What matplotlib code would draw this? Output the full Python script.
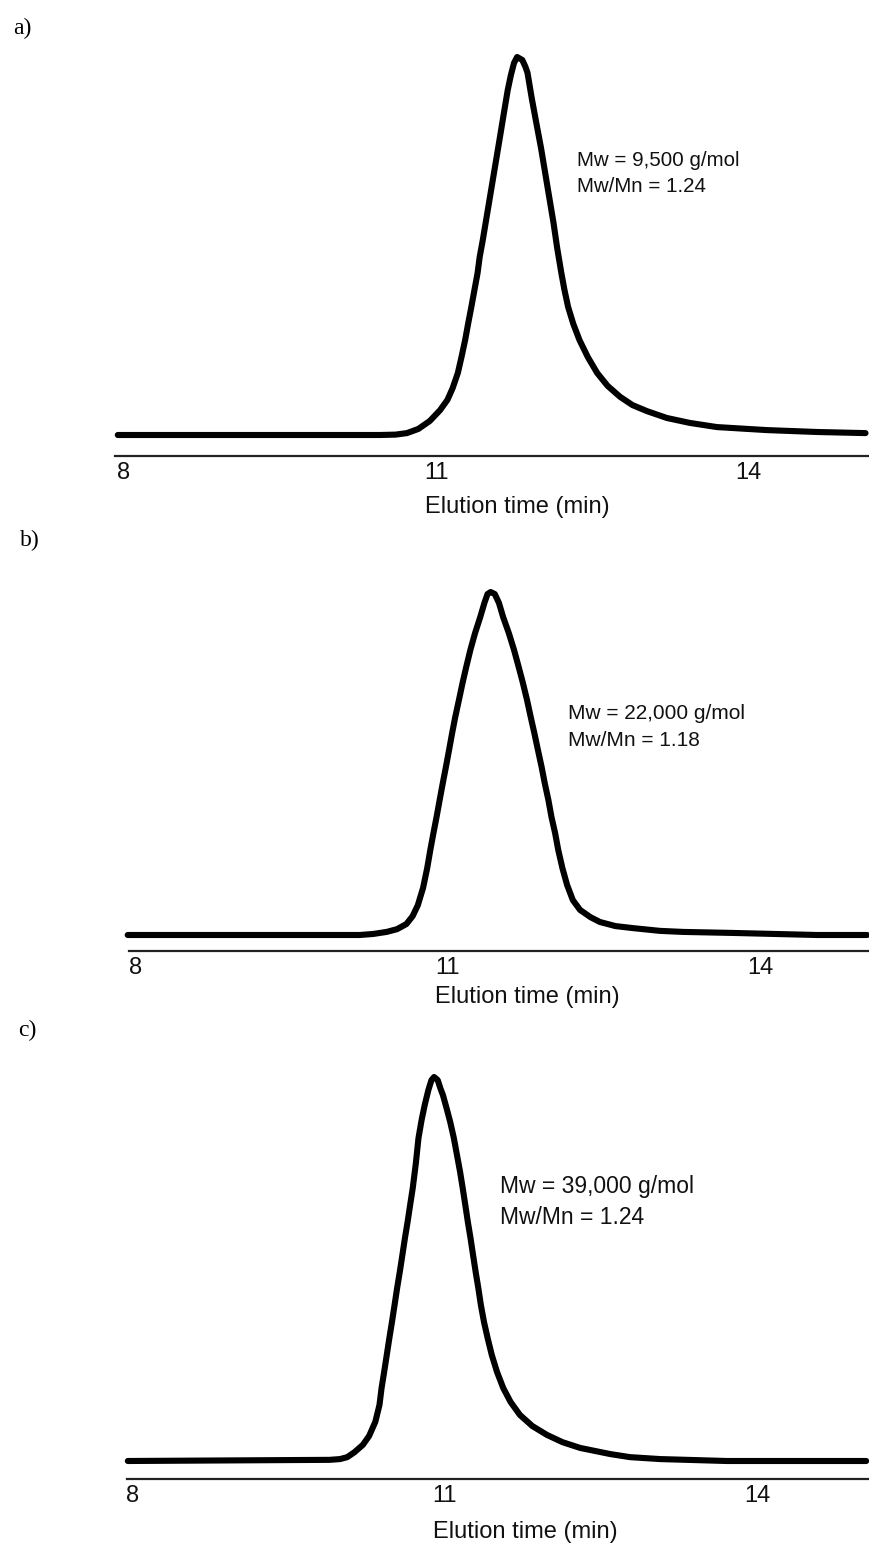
import matplotlib
matplotlib.use('Agg')
from matplotlib import pyplot as plt

# GPC traces (time in min, signal normalised to peak)
time_a = [7.94, 10.46, 10.61, 10.72, 10.83, 10.94, 11.04, 11.11, 11.16, 11.21,
          11.245, 11.28, 11.31, 11.34, 11.37, 11.40, 11.42, 11.45, 11.49, 11.53,
          11.57, 11.61, 11.65, 11.69, 11.72, 11.75, 11.78, 11.83, 11.86, 11.88,
          11.92, 11.965, 12.01, 12.05, 12.09, 12.13, 12.165, 12.205, 12.235, 12.27,
          12.32, 12.38, 12.46, 12.55, 12.65, 12.77, 12.89, 13.03, 13.22, 13.44,
          13.70, 14.18, 14.66, 15.13]
signal_a = [0.0, 0.0, 0.001, 0.005, 0.016, 0.037, 0.066, 0.093, 0.124, 0.164,
            0.206, 0.251, 0.296, 0.339, 0.384, 0.429, 0.471, 0.516, 0.582, 0.648,
            0.714, 0.780, 0.847, 0.913, 0.952, 0.984, 1.0, 0.992, 0.974, 0.958,
            0.892, 0.825, 0.759, 0.693, 0.627, 0.561, 0.495, 0.429, 0.384, 0.339,
            0.294, 0.251, 0.206, 0.164, 0.130, 0.101, 0.079, 0.063, 0.045, 0.032,
            0.021, 0.013, 0.008, 0.005]

time_b = [7.92, 10.15, 10.28, 10.41, 10.51, 10.60, 10.66, 10.71, 10.76, 10.80,
          10.83, 10.86, 10.89, 10.92, 10.95, 10.98, 11.01, 11.04, 11.07, 11.105,
          11.14, 11.175, 11.215, 11.26, 11.31, 11.35, 11.38, 11.41, 11.45, 11.49,
          11.53, 11.585, 11.635, 11.68, 11.72, 11.76, 11.795, 11.83, 11.865, 11.90,
          11.93, 11.965, 11.995, 12.03, 12.06, 12.10, 12.145, 12.20, 12.27, 12.37,
          12.46, 12.61, 12.78, 13.04, 13.26, 13.74, 14.55, 15.03]
signal_b = [0.0, 0.0, 0.003, 0.009, 0.017, 0.032, 0.055, 0.087, 0.137, 0.195,
            0.248, 0.297, 0.344, 0.394, 0.443, 0.490, 0.539, 0.589, 0.636, 0.685,
            0.735, 0.781, 0.831, 0.880, 0.927, 0.968, 0.994, 1.0, 0.994, 0.968,
            0.927, 0.880, 0.831, 0.781, 0.735, 0.685, 0.636, 0.589, 0.539, 0.490,
            0.443, 0.394, 0.344, 0.297, 0.248, 0.195, 0.146, 0.102, 0.073, 0.052,
            0.038, 0.026, 0.020, 0.012, 0.009, 0.006, 0.0, 0.0]

time_c = [7.95, 9.89, 9.99, 10.06, 10.13, 10.21, 10.27, 10.33, 10.37, 10.39,
          10.415, 10.44, 10.465, 10.49, 10.515, 10.54, 10.565, 10.59, 10.615, 10.64,
          10.665, 10.69, 10.72, 10.745, 10.775, 10.805, 10.84, 10.87, 10.895, 10.93,
          10.955, 10.98, 11.015, 11.05, 11.085, 11.115, 11.145, 11.17, 11.195, 11.22,
          11.245, 11.27, 11.295, 11.32, 11.345, 11.375, 11.41, 11.45, 11.50, 11.56,
          11.63, 11.72, 11.84, 11.98, 12.13, 12.30, 12.59, 12.78, 13.07, 13.71,
          15.05]
signal_c = [0.0, 0.003, 0.005, 0.010, 0.023, 0.042, 0.065, 0.102, 0.146, 0.190,
            0.232, 0.276, 0.320, 0.362, 0.406, 0.451, 0.492, 0.536, 0.581, 0.622,
            0.667, 0.711, 0.776, 0.841, 0.888, 0.927, 0.966, 0.992, 1.0, 0.992,
            0.971, 0.953, 0.919, 0.883, 0.841, 0.797, 0.753, 0.711, 0.667, 0.622,
            0.581, 0.536, 0.492, 0.451, 0.406, 0.362, 0.320, 0.276, 0.232, 0.190,
            0.154, 0.120, 0.091, 0.068, 0.049, 0.034, 0.018, 0.010, 0.005, 0.0,
            0.0]

panel_labels = ['a)', 'b)', 'c)']
mw_labels = ['Mw = 9,500 g/mol', 'Mw = 22,000 g/mol', 'Mw = 39,000 g/mol']
pdi_labels = ['Mw/Mn = 1.24', 'Mw/Mn = 1.18', 'Mw/Mn = 1.24']
xticks = [8, 11, 14]
xlabel = 'Elution time (min)'

W, H = 869, 1548
PX_PER_MIN = 104.0

# pixel layout of each panel (axes box, pixel of t=8, baseline / peak pixel,
# panel label, annotation position and size, xlabel centre)
layout = [
    dict(left=115, right=869, top=30, bottom=456, x8=124, base=435, peak=57,
         lab=(13, 28), txt=(577, 160), tsize=14.8, gap=27, xl=(517, 507)),
    dict(left=129, right=869, top=540, bottom=951, x8=136, base=935, peak=592,
         lab=(20, 540), txt=(568, 713), tsize=15, gap=27, xl=(527, 997)),
    dict(left=127, right=869, top=1030, bottom=1479, x8=133, base=1461, peak=1077,
         lab=(18, 1030), txt=(500, 1187), tsize=16.5, gap=31, xl=(525, 1532)),
]

plt.rcParams['font.family'] = ['Liberation Sans', 'DejaVu Sans']

fig = plt.figure(figsize=(W / 100, H / 100), dpi=100)


def fx(x):
    return x / W


def fy(y):
    return 1 - y / H


traces = [(time_a, signal_a), (time_b, signal_b), (time_c, signal_c)]
for i, ((t, s), L) in enumerate(zip(traces, layout)):
    ax = fig.add_axes([fx(L['left']), fy(L['bottom']),
                       (L['right'] - L['left']) / W,
                       (L['bottom'] - L['top']) / H])
    ax.plot(t, s, color='black', lw=4.4, solid_capstyle='round',
            solid_joinstyle='round', clip_on=False)
    ax.set_xlim(8 + (L['left'] - L['x8']) / PX_PER_MIN,
                8 + (L['right'] - L['x8']) / PX_PER_MIN)
    span = float(L['base'] - L['peak'])
    ax.set_ylim((L['base'] - L['bottom']) / span,
                (L['base'] - L['top']) / span)

    for side in ['top', 'left', 'right']:
        ax.spines[side].set_visible(False)
    ax.spines['bottom'].set_linewidth(1.6)
    ax.spines['bottom'].set_color('#222222')
    ax.set_yticks([])
    ax.set_xticks(xticks)
    ax.set_xticklabels([str(v) for v in xticks])
    ax.tick_params(axis='x', length=0, pad=4, labelsize=17, labelcolor='#111111')
    ax.patch.set_alpha(0)

    fig.text(fx(L['xl'][0]), fy(L['xl'][1]), xlabel, ha='center', va='center',
             fontsize=17, color='#111111')
    fig.text(fx(L['lab'][0]), fy(L['lab'][1]), panel_labels[i],
             family=['Liberation Serif', 'DejaVu Serif'], fontsize=17,
             ha='left', va='center')
    fig.text(fx(L['txt'][0]), fy(L['txt'][1]), mw_labels[i], ha='left',
             va='center', fontsize=L['tsize'], color='#111111')
    fig.text(fx(L['txt'][0]), fy(L['txt'][1] + L['gap']), pdi_labels[i],
             ha='left', va='center', fontsize=L['tsize'], color='#111111')

fig.savefig('out.png', dpi=100, facecolor='white')
